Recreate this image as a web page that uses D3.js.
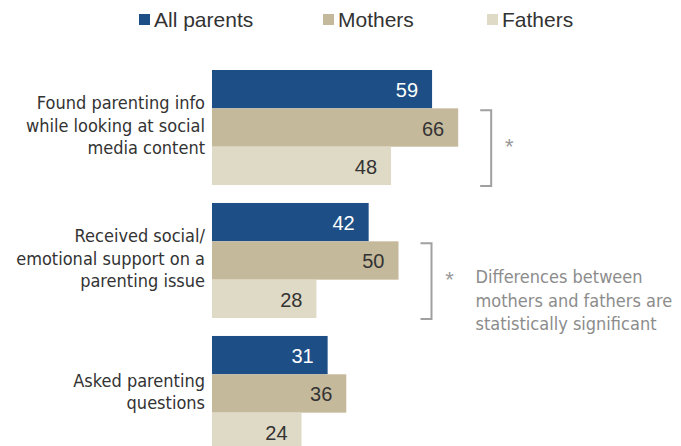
<!DOCTYPE html>
<html>
<head>
<meta charset="utf-8">
<script src="https://cdn.jsdelivr.net/npm/d3@7"></script>
<style>
  body { margin: 0; background: #fff; }
  svg { display: block; }
  .cat { font-family: "Liberation Sans Narrow", "DejaVu Sans Condensed", sans-serif; font-size: 18px; fill: #333; }
  .val { font-family: "Liberation Sans", Arial, sans-serif; font-size: 20px; }
  .leg { font-family: "Liberation Sans", Arial, sans-serif; font-size: 21px; fill: #333; }
  .note { font-family: "Liberation Sans Narrow", "DejaVu Sans Condensed", sans-serif; font-size: 18px; fill: #8c8c8c; }
</style>
</head>
<body>
<svg width="681" height="446"></svg>
<script>
// data
var categories = ['Found parenting info|while looking at social|media content',
                  'Received social/|emotional support on a|parenting issue',
                  'Asked parenting|questions'];
var seriesNames = ['All parents', 'Mothers', 'Fathers'];
var allParents = [59, 42, 31];
var mothers = [66, 50, 36];
var fathers = [48, 28, 24];
var significant = [true, true, false];
var noteLines = ['Differences between', 'mothers and fathers are', 'statistically significant'];

var colors = ['#1d4e85', '#c5b99b', '#dfdac6'];
var textColors = ['#fff', '#333', '#333'];

var values = [allParents, mothers, fathers];
var rows = categories.map(function(c, i) {
  return { cat: c, vals: values.map(function(s) { return s[i]; }), sig: significant[i] };
});

var svg = d3.select('svg');

var x = d3.scaleLinear().domain([0, 100]).range([212, 585]);

var y0 = d3.scaleBand()
    .domain(d3.range(categories.length))
    .range([70, 451])
    .paddingInner(0.135)
    .paddingOuter(0);

var y1 = d3.scaleBand()
    .domain(d3.range(seriesNames.length))
    .range([0, y0.bandwidth()]);

// legend
var legX = [139, 323, 487];
var leg = svg.append('g').selectAll('g')
  .data(seriesNames)
  .enter().append('g')
    .attr('transform', function(d, i) { return 'translate(' + legX[i] + ',14)'; });
leg.append('rect').attr('width', 11).attr('height', 11)
    .attr('fill', function(d, i) { return colors[i]; });
leg.append('text').attr('class', 'leg')
    .attr('x', 15).attr('y', 5.5).attr('dy', '0.35em')
    .text(function(d) { return d; });

var groups = svg.selectAll('.grp')
  .data(rows)
  .enter().append('g')
    .attr('class', 'grp')
    .attr('transform', function(d, i) { return 'translate(0,' + y0(i) + ')'; });

groups.selectAll('rect')
  .data(function(d) { return d.vals; })
  .enter().append('rect')
    .attr('x', x(0))
    .attr('y', function(d, i) { return y1(i); })
    .attr('width', function(d) { return x(d) - x(0); })
    .attr('height', y1.bandwidth())
    .attr('fill', function(d, i) { return colors[i]; });

groups.selectAll('.val')
  .data(function(d) { return d.vals; })
  .enter().append('text')
    .attr('class', 'val')
    .attr('x', function(d) { return x(d) - 14; })
    .attr('y', function(d, i) { return y1(i) + y1.bandwidth() / 2 + 1; })
    .attr('dy', '0.35em')
    .attr('text-anchor', 'end')
    .attr('fill', function(d, i) { return textColors[i]; })
    .text(function(d) { return d; });

// category labels
groups.each(function(d) {
  var lines = d.cat.split('|');
  var lh = 22.5;
  var mid = y0.bandwidth() / 2 - 2;
  d3.select(this).append('text')
    .attr('class', 'cat')
    .attr('text-anchor', 'end')
    .selectAll('tspan')
    .data(lines)
    .enter().append('tspan')
      .attr('x', 205)
      .attr('y', function(l, j) { return mid + (j - (lines.length - 1) / 2) * lh; })
      .attr('dy', '0.35em')
      .text(function(l) { return l; });
});

// brackets for significant differences
groups.filter(function(d) { return d.sig; }).each(function(d, k) {
  var g = d3.select(this);
  var bx = x(Math.max(d.vals[1], d.vals[2])) + 33;
  var top = y1(1) + 2, bot = y1(2) + y1.bandwidth() + 1;
  g.append('path')
    .attr('d', 'M' + (bx - 11) + ',' + top + 'H' + bx + 'V' + bot + 'H' + (bx - 11))
    .attr('fill', 'none').attr('stroke', '#a0a0a0').attr('stroke-width', 2);
  g.append('text')
    .attr('x', bx + 18).attr('y', (top + bot) / 2 + 6)
    .attr('text-anchor', 'middle')
    .attr('font-family', 'Liberation Sans, sans-serif')
    .attr('font-size', 22).attr('fill', '#999')
    .text('*');
});

// note next to second bracket
var n2 = rows[1];
var noteX = x(Math.max(n2.vals[1], n2.vals[2])) + 77;
svg.append('text').attr('class', 'note')
  .selectAll('tspan')
  .data(noteLines)
  .enter().append('tspan')
    .attr('x', noteX)
    .attr('y', function(l, j) { return y0(1) + 74 + j * 23.5; })
    .attr('dy', '0.35em')
    .text(function(l) { return l; });
</script>
</body>
</html>
